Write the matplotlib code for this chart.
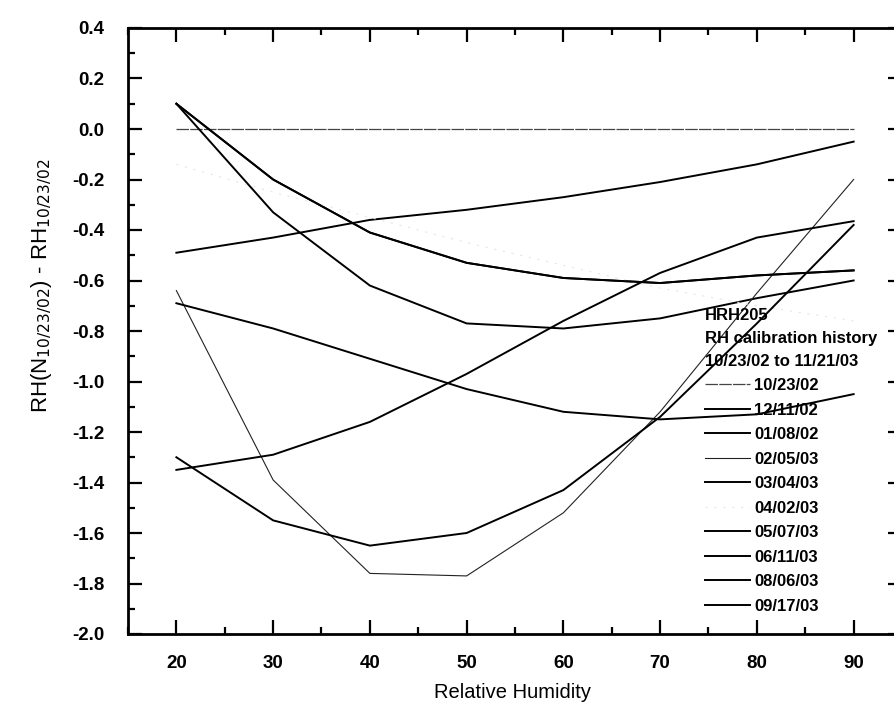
import numpy as np
import matplotlib
matplotlib.use('Agg')
import matplotlib.pyplot as plt
from matplotlib.ticker import MultipleLocator

plt.rcParams['font.family'] = ['Liberation Sans', 'DejaVu Sans']

# relative humidity set points
rh = [20, 30, 40, 50, 60, 70, 80, 90]

# RH offsets, one list per calibration date
dates = ['10/23/02', '12/11/02', '01/08/02', '02/05/03', '03/04/03',
         '04/02/03', '05/07/03', '06/11/03', '08/06/03', '09/17/03']
d_102302 = [0.0, 0.0, 0.0, 0.0, 0.0, 0.0, 0.0, 0.0]
d_121102 = [0.10, -0.20, -0.41, -0.53, -0.59, -0.61, -0.58, -0.56]
d_010802 = [0.10, -0.33, -0.62, -0.77, -0.79, -0.75, -0.67, -0.60]
d_020503 = [-0.64, -1.39, -1.76, -1.77, -1.52, -1.12, -0.65, -0.20]
d_030403 = [-0.49, -0.43, -0.36, -0.32, -0.27, -0.21, -0.14, -0.05]
d_040203 = [-0.14, -0.25, -0.35, -0.45, -0.54, -0.63, -0.70, -0.76]
d_050703 = [-0.69, -0.79, -0.91, -1.03, -1.12, -1.15, -1.13, -1.05]
d_061103 = [-1.35, -1.29, -1.16, -0.97, -0.76, -0.57, -0.43, -0.365]
d_080603 = [-1.30, -1.55, -1.65, -1.60, -1.43, -1.14, -0.77, -0.38]
d_091703 = [0.10, -0.20, -0.41, -0.53, -0.59, -0.61, -0.58, -0.56]  # hidden under 12/11/02

series = [d_102302, d_121102, d_010802, d_020503, d_030403,
          d_040203, d_050703, d_061103, d_080603, d_091703]

# line looks per date (scan is black & white)
styles = {
    '10/23/02': dict(color='#444444', lw=0.9, ls=(0, (10, 1))),
    '02/05/03': dict(color='#222222', lw=0.8, ls='-'),
    '04/02/03': dict(color='#e6e6e6', lw=0.8, ls=(0, (2, 6))),
}

W, H = 895, 711
fig = plt.figure(figsize=(W / 100, H / 100), dpi=100)
ax = fig.add_axes([128 / W, 1 - 634 / H, (902 - 128) / W, (634 - 28) / H])

for name, vals in zip(dates, series):
    st = styles.get(name, dict(color='black', lw=1.4, ls='-'))
    ax.plot(rh, vals, color=st['color'], lw=st['lw'], ls=st['ls'], label=name)

ax.set_xlim(15, 95)
ax.set_ylim(-2.0, 0.4)
ax.xaxis.set_major_locator(MultipleLocator(10))
ax.xaxis.set_minor_locator(MultipleLocator(5))
ax.yaxis.set_major_locator(MultipleLocator(0.2))
ax.yaxis.set_minor_locator(MultipleLocator(0.1))
ax.set_xticks([20, 30, 40, 50, 60, 70, 80, 90])
ax.yaxis.set_major_formatter(plt.FuncFormatter(lambda v, p: '%.1f' % v))

ax.tick_params(which='both', direction='in', top=True, right=True, width=1.6)
ax.tick_params(which='major', length=10, labelsize=13.5, pad=15)
ax.tick_params(which='minor', length=5)
ax.tick_params(axis='y', pad=17)
for lab in ax.get_xticklabels() + ax.get_yticklabels():
    lab.set_fontweight('bold')
for sp in ax.spines.values():
    sp.set_linewidth(2)

ax.set_xlabel('Relative Humidity', fontsize=14.5)
ax.xaxis.set_label_coords(0.497, -0.081)
ax.set_ylabel(r'RH(N$_{10/23/02}$) - RH$_{10/23/02}$', fontsize=16)
ax.yaxis.set_label_coords(-0.095, 0.576)

leg = ax.legend(title='HRH205\nRH calibration history\n10/23/02 to 11/21/03',
                loc='upper left', bbox_to_anchor=(705 / W, 1 - 308 / H),
                bbox_transform=fig.transFigure, frameon=False,
                prop=dict(size=12, weight='bold'),
                title_fontproperties=dict(size=12, weight='bold'),
                alignment='left', labelspacing=0.57, handlelength=2.7,
                handletextpad=0.25, borderpad=0, borderaxespad=0)
leg.get_title().set_linespacing(1.65)

fig.savefig('out.png', dpi=100)
